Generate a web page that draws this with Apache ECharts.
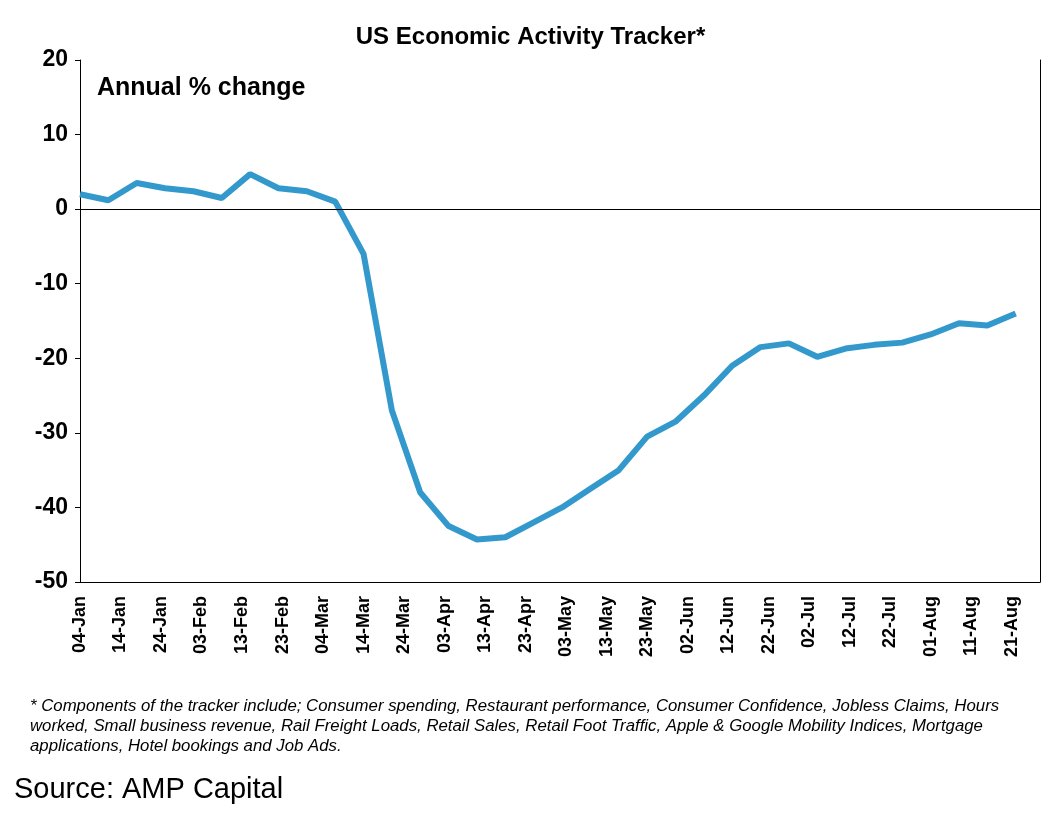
<!DOCTYPE html><html><head><meta charset="utf-8"><script src="https://cdn.jsdelivr.net/npm/echarts@6/dist/echarts.min.js"></script>
<style>body{margin:0;background:#fff}#c{width:1061px;height:824px}</style></head><body><div id="c"></div>
<script>
const weeklyValues=[2,1.2,3.5,2.8,2.4,1.5,4.7,2.8,2.4,1,-6,-27,-38,-42.5,-44.3,-44,-42,-40,-37.5,-35,-30.5,-28.5,-25,-21,-18.5,-18,-19.8,-18.7,-18.2,-17.9,-16.8,-15.3,-15.6,-14];
const months=['Jan','Feb','Mar','Apr','May','Jun','Jul','Aug'];
const categories=[];
const start=new Date(Date.UTC(2020,0,4));
for(let i=0;i<=237;i++){const d=new Date(start.getTime()+i*86400000);categories.push(String(d.getUTCDate()).padStart(2,'0')+'-'+months[d.getUTCMonth()]);}
const seriesData=categories.map((c,i)=>i%7===0&&i/7<weeklyValues.length?weeklyValues[i/7]:null);
const F='Liberation Sans, Arial, sans-serif';
const ch=echarts.init(document.getElementById('c'));
ch.setOption({
title:{text:'US Economic Activity Tracker*',left:'center',top:20,textStyle:{fontFamily:F,fontSize:24,fontWeight:'bold',color:'#000'}},
grid:{left:80,top:60,right:21,bottom:242},
xAxis:{type:'category',data:categories,boundaryGap:false,axisLine:{onZero:false,lineStyle:{color:'#000'}},axisTick:{show:false},
axisLabel:{rotate:90,interval:9,fontFamily:F,fontSize:18,fontWeight:'bold',color:'#000',margin:14}},
yAxis:[{type:'value',min:-50,max:20,interval:10,splitLine:{show:false},axisLine:{show:true,lineStyle:{color:'#000'}},axisTick:{show:true,inside:false,length:5,lineStyle:{color:'#000'}},
axisLabel:{fontFamily:F,fontSize:23,fontWeight:'bold',color:'#000',margin:12}},
{type:'value',min:-50,max:20,position:'right',splitLine:{show:false},axisLine:{show:true,lineStyle:{color:'#000'}},axisTick:{show:false},axisLabel:{show:false}}],
series:[{type:'line',data:seriesData,connectNulls:true,showSymbol:false,lineStyle:{color:'#3399cc',width:6},
markLine:{silent:true,symbol:'none',label:{show:false},lineStyle:{color:'#000',width:1,type:'solid'},data:[{yAxis:0}]}}],
graphic:[
{type:'text',left:97,top:76,style:{text:'Annual % change',font:'bold 25px '+F,fill:'#000'}},
{type:'text',left:30,top:696,style:{text:'* Components of the tracker include; Consumer spending, Restaurant performance, Consumer Confidence, Jobless Claims, Hours\nworked, Small business revenue, Rail Freight Loads, Retail Sales, Retail Foot Traffic, Apple & Google Mobility Indices, Mortgage\napplications, Hotel bookings and Job Ads.',font:'italic 16.8px '+F,fill:'#000',lineHeight:20}},
{type:'text',left:14,top:775,style:{text:'Source: AMP Capital',font:'29px '+F,fill:'#000'}}
]});
</script></body></html>
